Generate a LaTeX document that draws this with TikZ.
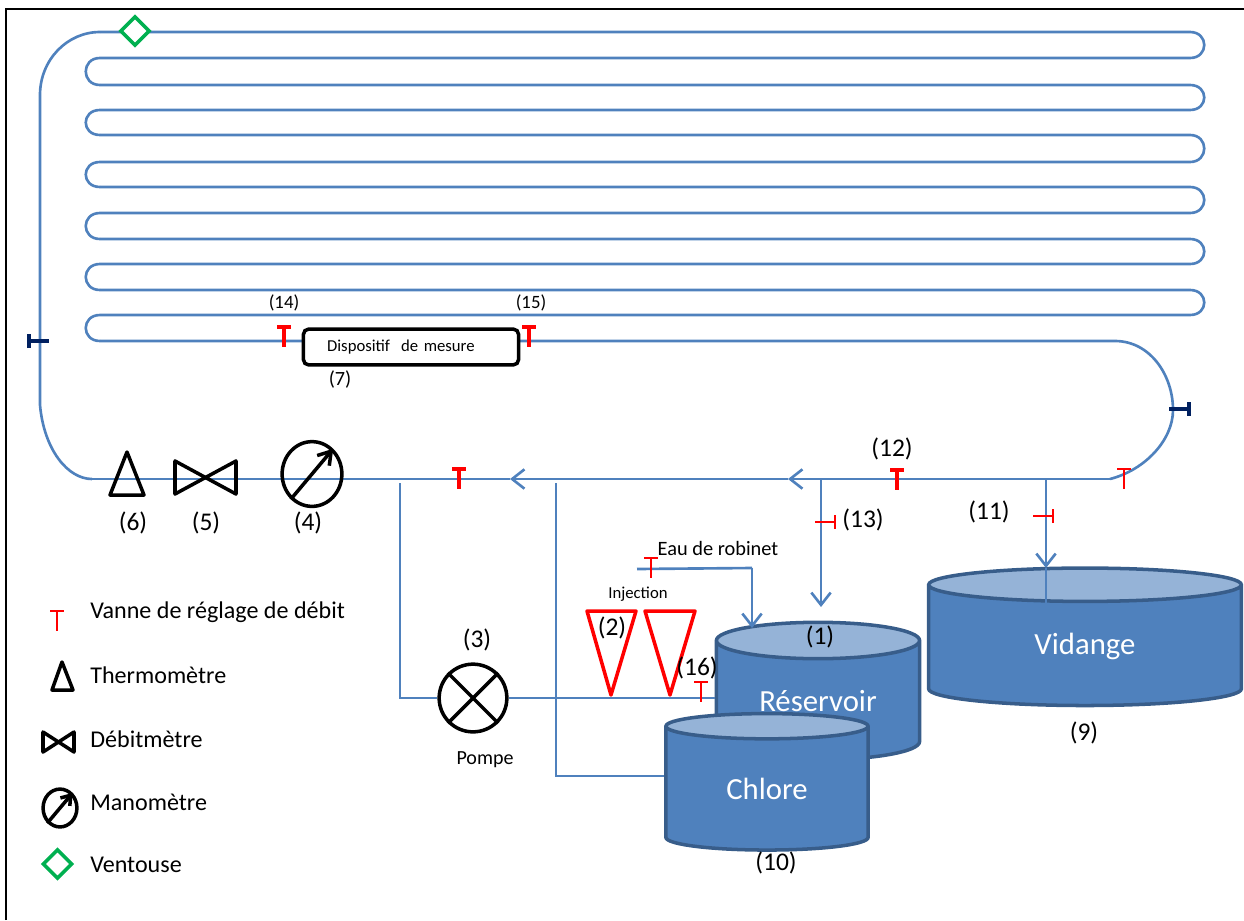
\documentclass[tikz,border=0pt]{standalone}
\usepackage{fontspec}
\setmainfont{Carlito}
\usetikzlibrary{shapes.geometric, arrows.meta, positioning, calc}

\definecolor{tuyau}{HTML}{4F81BD}
\definecolor{cuvebord}{HTML}{385D8A}
\definecolor{cuveclair}{HTML}{95B3D7}
\definecolor{ventgreen}{HTML}{00B050}
\definecolor{navyvanne}{HTML}{002060}

\begin{document}
\begin{tikzpicture}[
    x=0.02cm, y=-0.02cm,
    pipe/.style={
        draw=tuyau,
        line width=1.5pt
    },
    fleche/.style={
        pipe,
        -{Straight Barb[length=7pt,width=11pt,line width=1.5pt]}
    },
    symb/.style={
        draw=black,
        line width=2pt,
        line join=round
    },
    symbred/.style={
        draw=red,
        line width=2pt,
        line join=round
    },
    cuve/.style={
        cylinder,
        shape border rotate=90,
        cylinder uses custom fill,
        cylinder body fill=tuyau,
        cylinder end fill=cuveclair,
        draw=cuvebord,
        line width=2pt,
        inner sep=0pt,
        text=white,
        font=\fontsize{17.5}{20}\selectfont
    },
    ventouse/.style={
        diamond,
        draw=ventgreen,
        fill=white,
        line width=2pt,
        inner sep=0pt,
        minimum size=17pt
    },
    repere/.style={
        font=\fontsize{14.5}{16}\selectfont,
        inner sep=0pt
    },
    petit/.style={
        font=\fontsize{10.7}{12}\selectfont,
        inner sep=0pt
    },
    legende/.style={
        font=\fontsize{13.7}{15}\selectfont,
        anchor=west,
        inner sep=0pt
    },
    vanne/.pic={
        \draw[pic actions] (-7,-10) -- (7,-10) (0,-10) -- (0,10);
    },
    vanne bold/.style={draw=red, line width=2.3pt},
    vanne fine/.style={draw=red, line width=1.2pt},
    vanne navy/.style={draw=navyvanne, line width=2.3pt}
]
\useasboundingbox (0,0) rectangle (1244,920);

% Frame
\draw[black, line width=1.2pt] (6,920) -- (6,9) -- (1244,9);

% Serpentine
\foreach \ya/\yb/\yc in {32/58/85, 85/110/135, 135/162/187, 187/213/239, 239/264/290, 290/315/341} {
    \draw[pipe] (100,\ya) -- (1190,\ya) .. controls (1209,\ya) and (1209,\yb) .. (1190,\yb)
        -- (100,\yb) .. controls (81,\yb) and (81,\yc) .. (100,\yc);
}

% Pipe points
\coordinate (haut) at (100,32);
\coordinate (rang) at (100,341);
\coordinate (gauche-a) at (40,95);
\coordinate (gauche-b) at (40,405);
\coordinate (bas-g) at (92,479);
\coordinate (bas-d) at (1110,479);
\coordinate (sortie) at (1115,341);
\coordinate (retour) at (1173,410);
\coordinate (fl-a) at (788,479);
\coordinate (fl-b) at (510,479);
\coordinate (b-pompe) at (400,483);
\coordinate (b-chlore) at (556,483);
\coordinate (coude-chlore) at (556,776);
\coordinate (b-res) at (821,479);
\coordinate (b-vid) at (1046,479);
\coordinate (fl-res) at (821,607);
\coordinate (fl-vid) at (1046,568);
\coordinate (pied-vid) at (1046,603);
\coordinate (robinet) at (637,569);
\coordinate (coude) at (752,568);
\coordinate (fl-rob) at (752,628);

% Main loop
\draw[pipe] (haut) .. controls (67,32) and (40,60) .. (gauche-a) -- (gauche-b)
    .. controls (44,450) and (68,479) .. (bas-g);
\draw[pipe] (rang) -- (sortie) .. controls (1150,341) and (1173,375) .. (retour)
    .. controls (1173,440) and (1145,470) .. (bas-d);
\draw[fleche] (bas-d) -- (fl-a);
\draw[fleche] (fl-a) -- (fl-b);
\draw[pipe] (fl-b) -- (bas-g);

% Tanks
\node[cuve, minimum height=138*0.5669pt, minimum width=204*0.5669pt, aspect=0.31] (cuve-res) at (818,701) {Réservoir};
\node[cuve, minimum height=137*0.5669pt, minimum width=203*0.5669pt, aspect=0.31] (cuve-chlore) at (767,789) {Chlore};
\node[cuve, minimum height=138*0.5669pt, minimum width=314*0.5669pt, aspect=0.33] (cuve-vid) at (1085,646) {Vidange};

% Pump
\node[circle, draw=black, line width=2pt, fill=white, minimum size=68*0.5669pt, inner sep=0pt] (pompe) at (473,698) {};
\draw[symb] (pompe.45) -- (pompe.225);
\draw[symb] (pompe.135) -- (pompe.315);

% Branches
\draw[pipe] (b-pompe) |- (pompe.west);
\draw[pipe] (pompe.east) -- (pompe.east -| cuve-res.west);
\draw[pipe] (b-chlore) -- (coude-chlore) -- (coude-chlore -| cuve-chlore.west);
\draw[fleche] (b-res) -- (fl-res);
\draw[fleche] (b-vid) -- (fl-vid);
\draw[pipe] (fl-vid) -- (pied-vid);
\draw[pipe] (robinet) -- (coude);
\draw[fleche] (coude) -- (fl-rob);

% Injection
\draw[symbred] (587,611) -- (636,611) -- (611,695) -- cycle;
\draw[symbred] (645,611) -- (695,611) -- (670,695) -- cycle;

% Instruments
\draw[symb, fill=none] (127,452) -- (144,495) -- (110,495) -- cycle;
\draw[symb] (175,461) -- (175,494) -- (236,461) -- (236,494) -- cycle;
\node[ellipse, draw=black, line width=2pt, minimum width=60*0.5669pt, minimum height=65*0.5669pt, inner sep=0pt] (mano) at (312,474) {};
\draw[symb, -{Straight Barb[length=7pt,width=9pt,line width=2pt]}] (mano.230) -- (mano.50);
\node[ventouse] (vent) at (135,31) {};

% Measuring device
\node[draw=black, line width=2pt, fill=white, rounded corners=3pt, minimum width=216*0.5669pt,
      minimum height=36*0.5669pt, inner xsep=13.5pt, inner ysep=0pt, text width=216*0.5669pt-27pt,
      align=left, font=\fontsize{9.5}{11}\selectfont] (dispo) at (411,347) {Dispositif~ de mesure};

% Valves
\pic[vanne bold] at (284,337) {vanne};
\pic[vanne bold] at (529,337) {vanne};
\pic[vanne bold] at (459,479) {vanne};
\pic[vanne bold] at (897,480) {vanne};
\pic[vanne fine] at (1124,479) {vanne};
\pic[vanne fine] at (651,568) {vanne};
\pic[vanne fine] at (701,692) {vanne};
\pic[vanne fine, rotate=-90] at (825,522) {vanne};
\pic[vanne fine, rotate=-90] at (1043,516) {vanne};
\pic[vanne navy, rotate=90] at (39,341) {vanne};
\pic[vanne navy, rotate=-90] at (1179,409) {vanne};

% Labels
\node[petit] (l14) at (284,303) {(14)};
\node[petit] (l15) at (531,303) {(15)};
\node[repere, font=\fontsize{11.5}{13}\selectfont] (l7) at (340,380) {(7)};
\node[repere] (l6) at (133,523) {(6)};
\node[repere] (l5) at (206,523) {(5)};
\node[repere] (l4) at (308,523) {(4)};
\node[repere] (l3) at (477,640) {(3)};
\node[repere] (l2) at (612,628) {(2)};
\node[repere] (l1) at (820,637) {(1)};
\node[repere] (l16) at (697,668) {(16)};
\node[repere] (l13) at (863,520) {(13)};
\node[repere] (l12) at (892,449) {(12)};
\node[repere] (l11) at (989,512) {(11)};
\node[repere] (l9) at (1084,733) {(9)};
\node[repere] (l10) at (776,863) {(10)};
\node[inner sep=0pt, font=\fontsize{11.4}{13}\selectfont] (pompe-txt) at (485,760) {Pompe};
\node[inner sep=0pt, font=\fontsize{9.5}{11}\selectfont] (inj-txt) at (638,594) {Injection};
\node[inner sep=0pt, font=\fontsize{11.6}{13}\selectfont] (eau-txt) at (718,548) {Eau de robinet};

% Legend
\pic[vanne fine] at (57,621) {vanne};
\draw[symb] (62,662) -- (73,690) -- (52,690) -- cycle;
\draw[symb] (43,732) -- (43,752) -- (74,732) -- (74,752) -- cycle;
\node[ellipse, draw=black, line width=2pt, minimum width=34*0.5669pt, minimum height=38*0.5669pt, inner sep=0pt] (mano-leg) at (60,808) {};
\draw[symb, -{Straight Barb[length=5pt,width=7pt,line width=2pt]}] (mano-leg.230) -- (mano-leg.50);
\node[ventouse] (vent-leg) at (57.5,864) {};
\node[legende] (t-vanne) at (90,612) {Vanne de réglage de débit};
\node[legende] (t-thermo) at (90,675) {Thermomètre};
\node[legende] (t-debit) at (90,739) {Débitmètre};
\node[legende] (t-mano) at (90,802) {Manomètre};
\node[legende] (t-vent) at (90,865) {Ventouse};

\end{tikzpicture}
\end{document}
